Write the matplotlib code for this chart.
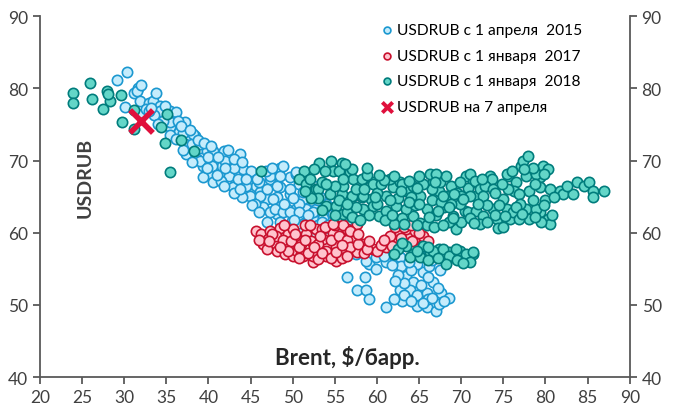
import matplotlib
matplotlib.use("Agg")
import matplotlib.pyplot as plt
import numpy as np

plt.rcParams['font.family'] = ['Lato', 'DejaVu Sans']

# USDRUB since 1 April 2015 (Brent, USDRUB)
brent_2015 = [29.1, 30.4, 30.1, 31.2, 31.7, 31.5, 31.9, 33.0, 33.4, 33.8, 34.2, 34.2, 32.1, 32.6, 33.5,
              35.4, 36.2, 37.2, 36.0, 35.4, 35.5, 36.4, 34.6, 33.0, 34.0,
              37.6, 38.4, 37.2, 38.0, 39.0, 39.8, 40.6, 41.9, 43.7, 37.4, 38.6, 39.4, 40.2, 41.0, 41.8,
              42.5, 40.6, 43.3, 44.1, 44.9, 45.6, 42.9, 38.2, 39.0, 41.6, 42.5, 43.5, 39.0, 40.4, 36.5,
              37.0, 39.4, 41.5, 40.0, 42.0, 43.0,
              46.1, 47.3, 48.5, 48.5, 46.9, 46.5, 48.1, 49.7, 50.8, 49.7, 50.4, 49.3, 50.4, 51.2, 52.4,
              52.8, 51.4, 52.4, 53.6, 48.1, 47.3, 44.5, 44.9, 46.1, 47.7, 47.9, 48.9, 49.9, 51.6, 51.6,
              51.6, 49.7, 48.1, 47.3, 48.5, 50.6, 48.9, 50.4, 51.2, 50.8, 49.7, 50.8, 52.4, 53.6, 53.6,
              54.8, 55.2, 56.0, 56.4, 45.5, 46.0, 47.0, 52.0, 53.0, 54.0, 55.0, 54.5, 53.0, 56.0, 57.0,
              57.5, 55.5, 56.5, 58.8, 56.2, 50.5, 52.0,
              36.8, 37.8, 38.8, 39.5, 40.3, 41.2, 42.3, 43.0, 44.0, 45.0, 45.8, 46.8, 47.5, 44.0, 43.0,
              41.8, 45.2, 46.0, 47.0, 48.5, 49.0, 50.0, 51.0, 52.8, 53.5, 54.2, 55.0, 55.8, 51.8, 50.2,
              53.2, 52.5, 41.0, 38.0, 39.8, 42.0, 44.5, 43.8, 37.0, 35.5, 36.2, 34.8, 33.2, 32.0,
              56.4, 57.6, 58.7, 59.1, 58.6, 59.1, 59.9, 61.1, 61.1, 59.9, 58.7, 57.5,
              62.7, 62.9, 63.5, 64.3, 62.7, 63.9, 64.7, 65.9, 64.7, 65.9, 67.0, 67.6, 68.6, 67.4, 66.7,
              65.5, 64.7, 66.2, 63.2, 65.2, 66.0, 63.0, 62.5, 64.0, 67.5, 66.5, 61.8, 60.5,
              63.8, 65.0, 66.0, 67.2, 63.2, 64.0, 65.5, 66.5, 68.0, 62.2, 61.8, 60.8, 62.0]
usdrub_2015 = [81.2, 82.3, 77.4, 79.4, 80.0, 79.7, 78.3, 78.0, 78.3, 79.4, 77.6, 76.9, 76.4, 77.2, 76.3,
               76.9, 76.7, 75.3, 75.3, 74.6, 75.3, 75.5, 75.5, 76.8, 75.0,
               73.4, 73.4, 72.3, 72.3, 71.8, 71.3, 71.3, 71.3, 70.9, 70.9, 70.2, 69.3, 68.1, 69.3, 69.3,
               68.1, 67.0, 67.2, 68.8, 66.7, 66.5, 66.3, 73.7, 72.3, 69.3, 67.9, 67.4, 70.0, 69.3, 74.0,
               73.8, 67.7, 67.2, 70.5, 70.0, 69.0,
               65.6, 67.4, 69.0, 66.3, 64.7, 63.5, 64.9, 65.3, 66.7, 67.7, 68.1, 63.3, 63.3, 64.7, 64.4,
               63.3, 61.4, 62.1, 62.6, 62.6, 62.8, 66.5, 65.1, 65.1, 64.7, 63.3, 62.8, 61.6, 61.4, 63.3,
               66.0, 66.0, 66.5, 67.9, 67.9, 68.1, 69.3, 68.4, 65.6, 64.0, 62.8, 62.8, 62.8, 63.3, 62.1,
               62.6, 61.4, 61.9, 61.0, 64.0, 67.0, 66.0, 65.5, 64.5, 64.0, 63.5, 60.5, 61.0, 60.0, 60.5,
               59.0, 59.5, 58.5, 58.1, 57.7, 61.0, 60.5,
               74.8, 74.2, 72.8, 72.5, 72.0, 70.5, 71.5, 70.2, 69.8, 68.5, 67.5, 68.5, 69.0, 65.0, 65.5,
               66.5, 63.8, 62.8, 61.5, 61.5, 64.0, 64.8, 60.0, 59.8, 61.5, 61.0, 60.5, 60.8, 62.5, 61.8,
               65.0, 66.5, 68.0, 69.8, 69.0, 69.0, 67.5, 66.0, 71.5, 73.5, 73.0, 77.5, 77.3, 80.5,
               53.8, 52.0, 52.0, 50.8, 53.8, 55.7, 55.0, 55.9, 49.7, 56.6, 56.1, 57.0,
               56.6, 55.4, 54.0, 53.1, 52.0, 52.0, 51.3, 51.7, 49.9, 49.7, 49.2, 51.7, 51.0, 50.1, 53.1,
               54.5, 55.6, 55.4, 53.0, 52.8, 50.8, 50.5, 54.2, 54.8, 54.8, 56.2, 57.3, 57.8,
               56.0, 57.0, 53.8, 52.3, 51.3, 50.5, 50.3, 51.0, 50.5, 53.3, 55.5, 56.8, 50.8]

# USDRUB since 1 January 2017
brent_2017 = [45.7, 46.3, 47.3, 48.5, 47.1, 47.9, 48.1, 49.1, 49.1, 50.0, 50.6, 51.6, 52.2, 51.2, 52.4,
              52.8, 53.6, 52.8, 54.0, 55.2, 56.0, 56.4, 57.6, 57.2, 58.4, 59.5, 61.1, 62.1, 62.7, 63.9,
              64.7, 65.5, 54.8, 55.2, 52.4, 57.6, 46.5, 48.0, 49.5, 50.0, 50.5, 51.0, 53.0, 54.0, 54.5,
              55.5, 56.5, 53.5, 50.0, 49.0, 51.5, 55.8, 58.5, 60.0, 60.5, 61.5, 63.0, 63.5, 64.5, 65.5,
              66.0, 55.0, 56.0, 51.0, 53.0, 47.0, 62.2,
              46.0, 47.5, 48.8, 49.8, 50.8, 51.8, 52.5, 53.5, 54.5, 55.2, 56.8, 57.8, 58.8, 59.0, 51.5,
              52.0, 53.8, 54.8, 56.8, 57.8, 50.3, 49.5, 48.5, 47.2, 61.8, 62.8, 64.2, 63.2, 64.0, 65.0,
              60.8, 53.2, 55.8, 50.8, 56.5]
usdrub_2017 = [60.3, 59.8, 60.3, 60.7, 59.1, 58.4, 57.5, 57.0, 58.4, 58.0, 59.3, 59.8, 58.9, 56.8, 56.0,
               60.5, 59.1, 57.7, 56.8, 56.1, 57.7, 60.5, 61.2, 59.1, 58.4, 57.7, 58.0, 58.9, 60.0, 59.6,
               59.1, 58.4, 60.0, 58.1, 56.8, 57.3, 58.5, 59.5, 59.8, 56.8, 57.5, 58.5, 58.5, 57.5, 59.0,
               59.5, 59.0, 60.5, 60.5, 61.0, 61.0, 56.5, 57.2, 57.5, 58.3, 59.5, 58.8, 60.5, 60.2, 59.5,
               58.8, 61.0, 61.0, 57.0, 56.3, 57.8, 60.8,
               59.0, 59.8, 59.0, 58.8, 58.0, 57.2, 58.0, 57.2, 56.5, 57.3, 58.0, 58.5, 57.8, 58.8, 59.0,
               61.0, 60.8, 61.2, 60.2, 59.8, 59.8, 57.5, 58.0, 58.8, 58.2, 59.2, 58.8, 60.8, 61.0, 60.0,
               59.0, 59.5, 58.3, 56.5, 56.8]

# USDRUB since 1 January 2018
brent_2018 = [23.9, 23.9, 26.0, 26.2, 28.0, 28.3, 27.5, 29.6, 29.8, 31.2, 31.2, 35.1, 34.4, 34.9, 36.8,
              38.3, 35.5, 28.1,
              46.3, 51.4, 50.8, 51.6, 52.8, 53.0, 53.1, 54.6, 55.8, 54.8, 55.5, 56.8, 54.4, 55.8, 57.2,
              58.4, 59.5, 54.0, 55.2, 56.0, 58.2, 59.3, 57.2, 58.2, 59.5, 59.5, 60.3, 61.1, 61.9, 62.7,
              63.5, 64.3, 65.1, 65.9, 66.7, 66.3, 67.4, 68.2, 69.0, 69.4, 70.6, 71.4, 71.8, 64.3, 65.1,
              65.9, 62.3, 61.1, 58.4, 63.5, 56.4, 57.0, 58.4, 52.0, 53.5, 56.0, 57.5, 60.0, 60.5, 61.5,
              63.0, 64.0, 62.5, 63.0, 62.0, 61.0, 64.5, 66.5, 67.0, 68.0, 68.5, 66.5, 65.5, 60.0, 59.0,
              57.5, 55.5, 53.0, 56.5, 67.5, 68.8, 69.5, 70.5, 69.8, 70.0, 60.8, 63.8, 65.0, 58.8,
              52.5, 53.8, 56.0, 57.0, 55.0, 54.0, 52.2, 51.5, 58.5, 59.8, 61.5, 62.8, 63.8, 65.0, 66.2,
              67.6, 68.8, 70.8, 69.8, 68.2, 67.0, 64.8, 62.0, 60.2, 61.8, 63.2, 64.8, 66.8, 67.8, 70.8,
              57.0, 58.0, 55.0, 53.5, 58.8, 56.2,
              71.0, 71.6, 73.4, 73.6, 70.0, 71.0, 72.2, 72.8, 73.8, 72.6, 71.8, 72.6, 72.2, 73.8, 74.2,
              74.4, 75.0, 75.4, 75.8, 75.6, 76.5, 76.3, 76.1, 77.1, 77.3, 77.9, 77.7, 78.1, 76.9, 77.7,
              78.1, 76.9, 79.3, 80.3, 80.5, 79.7, 80.3, 79.3, 78.9, 79.3, 80.5, 81.7, 82.1, 83.3, 83.7,
              84.6, 85.2, 85.6, 85.6, 86.9, 78.9, 75.4, 69.2, 70.2, 68.6, 67.3, 69.0, 66.9, 67.8, 74.5,
              73.0, 71.0, 77.0, 78.5, 74.0, 75.5, 78.5, 80.0, 72.0, 73.0, 75.0, 79.5, 76.5, 81.0, 82.5,
              72.5, 74.8, 76.0, 77.5, 78.8, 79.8, 74.0, 75.2, 77.2, 78.8, 79.8, 80.8, 71.5,
              63.5, 64.3, 65.5, 66.3, 67.4, 68.6, 69.8, 70.6, 71.4, 68.2, 63.9, 65.1, 66.7, 67.8, 68.6,
              69.4, 70.6, 71.4, 71.0, 68.2, 62.5, 62.0, 64.8, 66.0, 67.2, 69.5, 70.2, 63.0, 66.0]
usdrub_2018 = [79.3, 78.0, 80.8, 78.5, 79.7, 78.3, 77.2, 79.1, 75.4, 74.4, 77.0, 76.4, 74.6, 72.4, 72.9,
               71.3, 68.4, 79.2,
               68.6, 68.5, 67.4, 66.7, 66.0, 66.0, 69.7, 70.0, 69.7, 68.6, 68.6, 68.4, 65.3, 65.3, 65.1,
               67.4, 67.0, 63.7, 63.7, 62.6, 64.9, 64.7, 67.4, 67.4, 66.7, 63.7, 62.3, 65.1, 66.3, 67.0,
               65.8, 66.5, 65.1, 63.3, 67.0, 68.1, 65.8, 65.1, 62.3, 60.5, 67.9, 67.0, 65.1, 62.3, 61.4,
               61.0, 63.7, 63.0, 63.3, 63.3, 62.8, 65.1, 65.1, 67.5, 67.0, 66.5, 66.0, 65.5, 66.8, 67.5,
               66.8, 65.0, 64.8, 62.0, 61.2, 61.8, 63.8, 64.5, 62.5, 63.5, 61.5, 66.0, 66.8, 64.0, 62.5,
               63.5, 64.5, 64.8, 64.0, 67.0, 66.5, 65.5, 63.0, 64.0, 61.5, 67.3, 67.2, 67.8, 68.0,
               68.8, 68.5, 67.5, 68.8, 66.5, 66.8, 64.8, 65.8, 66.0, 65.0, 64.5, 65.8, 64.2, 64.0, 62.2,
               64.2, 64.0, 66.2, 67.0, 67.8, 68.2, 66.2, 67.8, 68.0, 62.5, 61.2, 61.0, 60.8, 61.0, 62.8,
               62.2, 61.8, 62.5, 63.2, 69.0, 69.5,
               68.1, 67.2, 67.9, 67.4, 65.1, 65.1, 66.0, 66.5, 66.0, 65.1, 63.0, 62.3, 61.2, 63.3, 61.9,
               60.7, 64.7, 63.3, 61.9, 67.9, 67.0, 65.8, 62.8, 69.3, 70.0, 70.6, 67.9, 65.8, 65.3, 63.3,
               61.9, 61.9, 62.8, 61.9, 61.2, 69.3, 68.8, 67.7, 68.1, 66.3, 66.0, 65.8, 65.3, 65.3, 67.0,
               66.5, 67.0, 65.8, 64.9, 65.8, 63.3, 68.1, 65.3, 64.7, 63.5, 63.0, 62.1, 67.0, 65.1, 63.8,
               63.8, 62.0, 64.0, 64.5, 65.5, 66.0, 69.0, 64.5, 64.0, 61.5, 60.8, 61.5, 63.5, 65.0, 66.5,
               67.5, 66.8, 68.5, 68.8, 66.8, 68.2, 62.5, 62.3, 62.6, 62.2, 63.8, 62.5, 61.3,
               58.2, 57.0, 58.2, 57.3, 57.7, 57.3, 57.5, 56.8, 57.0, 55.9, 56.6, 56.6, 57.5, 57.7, 56.8,
               57.7, 57.0, 57.3, 55.9, 55.7, 57.8, 57.0, 57.5, 56.2, 56.5, 56.2, 55.8, 58.6, 58.0]

# USDRUB on 7 April
brent_now = [32.0]
usdrub_now = [75.5]

labels = ['USDRUB с 1 апреля  2015', 'USDRUB с 1 января  2017',
          'USDRUB с 1 января  2018', 'USDRUB на 7 апреля']

fig = plt.figure(figsize=(6.75, 4.1), dpi=100)
ax = fig.add_axes([0.059, 0.078, 0.874, 0.880])

ax.scatter(brent_2015, usdrub_2015, s=55, facecolor='#C5ECFC', edgecolor='#1B98D0', linewidth=1.2,
           label=labels[0], zorder=2)
ax.scatter(brent_2017, usdrub_2017, s=55, facecolor='#FFC4CE', edgecolor='#C8102E', linewidth=1.2,
           label=labels[1], zorder=3)
ax.scatter(brent_2018, usdrub_2018, s=55, facecolor='#63D6C8', edgecolor='#007C7C', linewidth=1.2,
           label=labels[2], zorder=4)
ax.scatter(brent_now, usdrub_now, s=270, marker='x', color='#E0103C', linewidth=4,
           label=labels[3], zorder=5)

ax.set_xlim(20, 90)
ax.set_ylim(40, 90)
ax.set_xticks(np.arange(20, 91, 5))
ax.set_yticks(np.arange(40, 91, 10))

for side in ['left', 'right', 'bottom']:
    ax.spines[side].set_color('#595959')
    ax.spines[side].set_linewidth(1.3)
ax.spines['top'].set_visible(False)
ax.tick_params(axis='both', which='both', direction='out', length=5, width=1.3,
               color='#595959', labelcolor='#404040', labelsize=12.5)
ax.tick_params(axis='y', right=True, labelright=True)

ax.text(0.076, 0.554, 'USDRUB', transform=ax.transAxes, rotation=90, ha='center', va='center',
        fontsize=14, fontweight='bold', color='#404040')
ax.text(0.522, 0.058, 'Brent, $/барр.', transform=ax.transAxes, ha='center', va='center',
        fontsize=16, fontweight='bold', color='#262626')

leg = ax.legend(loc='upper left', bbox_to_anchor=(0.555, 1.02), frameon=False, fontsize=11.2,
                handlelength=0.8, handletextpad=0.2, labelspacing=0.75)
# small markers in the legend, like the original
for h in leg.legend_handles[:3]:
    h.set_sizes([24])
leg.legend_handles[3].set_sizes([55])
leg.legend_handles[3].set_linewidth(2.8)

fig.savefig('out.png', dpi=100)
